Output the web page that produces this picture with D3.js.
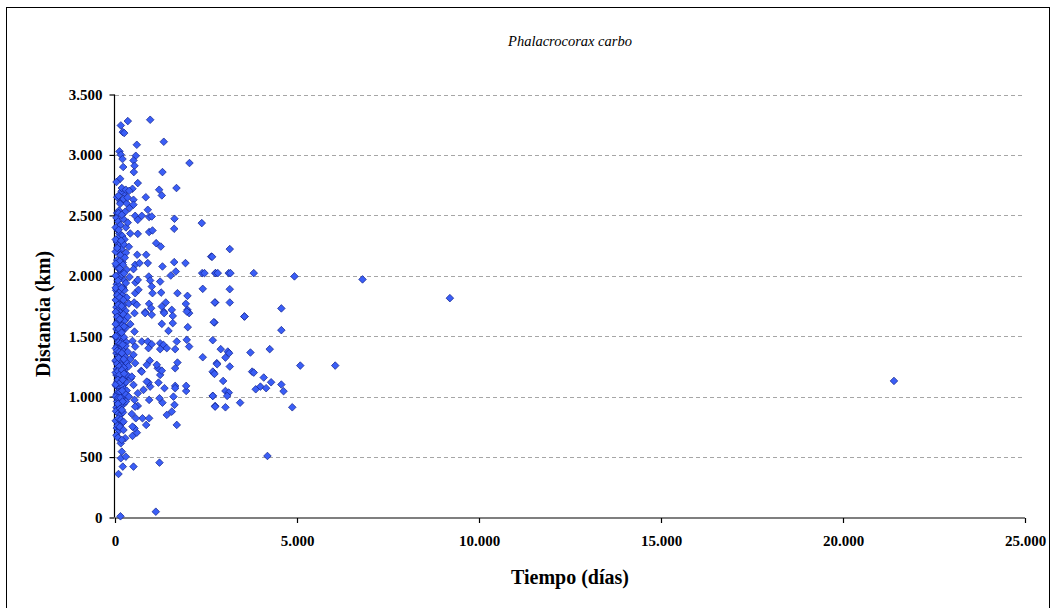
<!DOCTYPE html>
<html><head><meta charset="utf-8">
<script src="https://cdn.jsdelivr.net/npm/d3@7"></script>
<style>body{margin:0;background:#fff}svg{display:block}</style>
</head><body>
<script>
const titulo = "Phalacrocorax carbo";
const ejeX = "Tiempo (días)";
const ejeY = "Distancia (km)";
const xTicks = [0, 5000, 10000, 15000, 20000, 25000];
const yTicks = [0, 500, 1000, 1500, 2000, 2500, 3000, 3500];
// [tiempo (días), distancia (km)]
const puntosDispersos = [
 [21400,1130],[9200,1815],[6800,1970],[6050,1257],[4930,1995],[4570,1730],[4570,1550],[5090,1257],
 [4570,1100],[4630,1045],[4870,912],[2713,1616],[3556,1663],[2686,1467],[2905,1393],[3098,1373],
 [3136,1360],[3034,1323],[3721,1365],[4251,1393],[2806,1268],[3153,1249],[2686,1207],[2732,1188],
 [3767,1207],[3812,1199],[4086,1158],[4289,1119],[2971,1130],[3866,1061],[3995,1083],[4152,1070],
 [3034,1047],[3125,1033],[3081,1006],[2686,1006],[2751,917],[3034,912],[3438,950],[4188,509],
 [3153,2221],[2669,2157],[2760,2022],[2824,2022],[3125,2022],[3172,2022],[3812,2022],[3153,1889],
 [2741,1779],[3153,1779],[3556,1663]
];
const puntosCercanos = [
 [160,3244],[352,3280],[967,3291],[214,3189],[253,3181],[599,3084],[1340,3109],[124,3029],[160,3002],
 [206,2966],[571,2993],[508,2954],[536,2910],[225,2900],[2046,2933],[1304,2858],[517,2858],[142,2803],
 [41,2776],[626,2767],[187,2726],[481,2720],[1213,2712],[1286,2665],[1689,2726],[297,2712],[390,2703],
 [96,2662],[233,2635],[343,2648],[508,2629],[846,2650],[142,2596],[508,2588],[96,2519],[187,2505],
 [554,2496],[736,2496],[901,2546],[938,2486],[1010,2491],[626,2463],[1634,2472],[1626,2389],[2384,2436],
 [938,2362],[1030,2375],[626,2347],[1131,2270],[1258,2242],[2642,2159],[610,2174],[857,2174],[554,2091],
 [673,2105],[901,2105],[1304,2077],[1626,2113],[1936,2105],[508,2055],[1532,2002],[1670,2035],[2394,2022],
 [2458,2022],[2760,2022],[928,1994],[966,1961],[1241,1952],[563,1944],[626,1966],[2411,1892],[1010,1911],
 [1268,1861],[1030,1856],[1716,1856],[1991,1834],[554,1856],[645,1884],[2751,1779],[1395,1779],[1945,1768],
 [527,1779],[599,1760],[938,1768],[993,1732],[1286,1746],[829,1699],[1010,1677],[1340,1702],[1560,1718],
 [1991,1718],[2037,1691],
 [150,10],[1121,48],[96,360],[214,421],[508,421],[1222,454],[160,490],[297,503],[187,545],[160,614],
 [280,656],[481,675],[599,702],[536,738],[857,766],[1697,766],[755,821],[938,821],[1423,849],[1560,876],
 [1634,932],[938,973],[626,923],[461,857],[233,793],[2751,923],[2686,1006],[1955,1047],[1955,1089],
 [1653,1089],[1653,1070],[1606,1000],[1304,950],[1222,987],[783,1056],[966,1083],[1359,1070],[1194,1116],
 [920,1116],[1241,1180],[1175,1235],[1286,1215],[956,1298],[873,1263],[719,1213],[1716,1282],[1653,1235],
 [2411,1326],[2705,1199],[2796,1277],[2732,1613],[1999,1575],[1469,1544],[1286,1602],[1587,1608],
 [1350,1691],[1587,1668],[1972,1704],[536,1691],[829,1691],[536,1538],[481,1461],[736,1456],[901,1456],
 [1010,1434],[1241,1442],[1332,1428],[1697,1456],[1972,1470],[2037,1414],[1653,1393],[1423,1401],
 [1241,1393],[920,1401],[554,1414],[508,1346],[554,1277],[736,1207],[873,1124],[1148,1263],[536,973],
 [626,1028],[508,1097],[461,1166],[554,917],[571,821],[481,752],[233,724],[187,642]
];
const puntosDensos = [
 [60,2520],[110,2540],[200,2510],[280,2530],[150,2610],[60,2650],[250,2680],[320,2600],[400,2560],[180,2700],
 [40,2480],[90,2450],[150,2420],[230,2470],[300,2400],[70,2380],[120,2350],[200,2330],[350,2440],[260,2300],[80,2310],[420,2350],
 [50,2280],[110,2250],[180,2220],[240,2260],[90,2200],[150,2170],[300,2190],[60,2130],[210,2110],[380,2240],[130,2120],[270,2150],
 [40,2080],[100,2060],[160,2040],[220,2090],[70,2000],[130,1980],[190,2010],[260,1960],[320,2050],[50,1930],[110,1920],[230,1900],[400,1990],[300,1940],
 [30,1880],[80,1860],[140,1870],[200,1840],[260,1880],[60,1800],[120,1780],[180,1810],[240,1760],[320,1820],[40,1740],[100,1720],[160,1700],[290,1710],[380,1770],[210,1740],
 [50,1690],[110,1670],[170,1650],[230,1680],[70,1620],[130,1600],[200,1590],[270,1630],[350,1660],[40,1560],[90,1540],[150,1520],[220,1550],[300,1570],[420,1600],[60,1500],
 [30,1490],[80,1470],[130,1480],[190,1460],[250,1490],[310,1450],[60,1420],[110,1400],[170,1410],[230,1380],[290,1420],[40,1360],[90,1340],[150,1350],[210,1320],[270,1330],[350,1370],[420,1310],[70,1300],[130,1310],
 [30,1290],[80,1280],[140,1270],[200,1290],[260,1260],[320,1280],[50,1230],[100,1220],[160,1240],[220,1210],[280,1230],[370,1250],[40,1180],[90,1170],[150,1160],[210,1190],[270,1150],[330,1180],[60,1120],[120,1110],[180,1130],[240,1100],[300,1120],[430,1150],
 [30,1090],[80,1080],[140,1070],[200,1090],[260,1060],[320,1050],[50,1020],[110,1010],[170,1030],[230,1000],[290,1020],[60,960],[120,950],[180,970],[240,940],[300,960],[40,910],[100,900],[160,920],[380,1000],
 [30,880],[90,860],[150,850],[220,870],[60,800],[120,790],[190,780],[50,740],[110,720],[40,680],[80,660],
 [20,2400],[20,2200],[20,2000],[20,1800],[20,1600],[20,1400],[20,1200],[20,1000],[20,800],[20,1100],[20,1300],[20,1500],[20,1700],[20,1900],[20,2100],[20,2300],
 [100,2380],[170,2290],[60,2230],[130,2060],[250,2020],[80,1960],[180,1900],[60,1840],[130,1820],[230,1800],[90,1760],[180,1750],[60,1660],[130,1640],[250,1580],
 [110,1560],[180,1530],[90,1450],[150,1440],[210,1430],[60,1380],[120,1370],[190,1360],[100,1320],[240,1310],[60,1270],[170,1260],[120,1250],[240,1240],[80,1210],
 [190,1220],[120,1180],[250,1190],[80,1140],[150,1120],[210,1140],[90,1040],[140,1040],[200,1050],[90,990],[150,990],[210,960],[80,940],[140,900],[190,890],[90,820],[160,810],[70,760],[130,750]
];

const W = 1053, H = 608;
const m = {left:115, right:1025, top:94.5, bottom:517.5};
const svg = d3.select("body").append("svg").attr("width", W).attr("height", H);
svg.append("rect").attr("x",6.5).attr("y",7.5).attr("width",1043).attr("height",640)
  .attr("fill","#fff").attr("stroke","#000").attr("stroke-width",1);

const x = d3.scaleLinear().domain([0,25000]).range([m.left, m.right]);
const y = d3.scaleLinear().domain([0,3500]).range([m.bottom, m.top]);
const fmt = d => d3.format(",")(d).replace(/,/g, ".");

svg.append("g").selectAll("line").data(yTicks.filter(d=>d>0)).join("line")
  .attr("x1", m.left).attr("x2", m.right)
  .attr("y1", d=>Math.round(y(d))+0.5).attr("y2", d=>Math.round(y(d))+0.5)
  .attr("stroke","#a6a6a6").attr("stroke-dasharray","4,3").attr("stroke-width",1);

const font = "'Liberation Serif','Times New Roman',serif";
const yAxis = svg.append("g").attr("transform",`translate(${m.left-0.5},0)`)
  .call(d3.axisLeft(y).tickValues(yTicks).tickFormat(fmt).tickSize(5).tickPadding(7));
const xAxis = svg.append("g").attr("transform",`translate(0,${m.bottom+0.5})`)
  .call(d3.axisBottom(x).tickValues(xTicks).tickFormat(fmt).tickSize(5).tickPadding(12));
[xAxis, yAxis].forEach(a => {
  a.selectAll("path,line").attr("stroke","#000").attr("stroke-width",1.2);
  a.selectAll("text").attr("font-family",font).attr("font-weight","bold").attr("font-size",15).attr("fill","#000");
});
xAxis.select(".domain").attr("d", `M${m.left},0H${m.right}`);
yAxis.select(".domain").attr("d", `M0,${m.top}V${m.bottom}`);

const diamond = "M0,-3.8L3.8,0L0,3.8L-3.8,0Z";
const todos = puntosDensos.concat(puntosCercanos, puntosDispersos);
svg.append("g").selectAll("path").data(todos).join("path")
  .attr("d", diamond)
  .attr("transform", d=>`translate(${x(d[0])},${y(d[1])})`)
  .attr("fill","#3a5ef6").attr("stroke","#10208a").attr("stroke-width",0.7);

svg.append("text").attr("x",570).attr("y",46).attr("text-anchor","middle")
  .attr("font-family",font).attr("font-style","italic").attr("font-size",14.5).text(titulo);
svg.append("text").attr("x",570).attr("y",584).attr("text-anchor","middle")
  .attr("font-family",font).attr("font-weight","bold").attr("font-size",20).text(ejeX);
svg.append("text").attr("transform","translate(50,314) rotate(-90)").attr("text-anchor","middle")
  .attr("font-family",font).attr("font-weight","bold").attr("font-size",20).text(ejeY);
</script>
</body></html>
